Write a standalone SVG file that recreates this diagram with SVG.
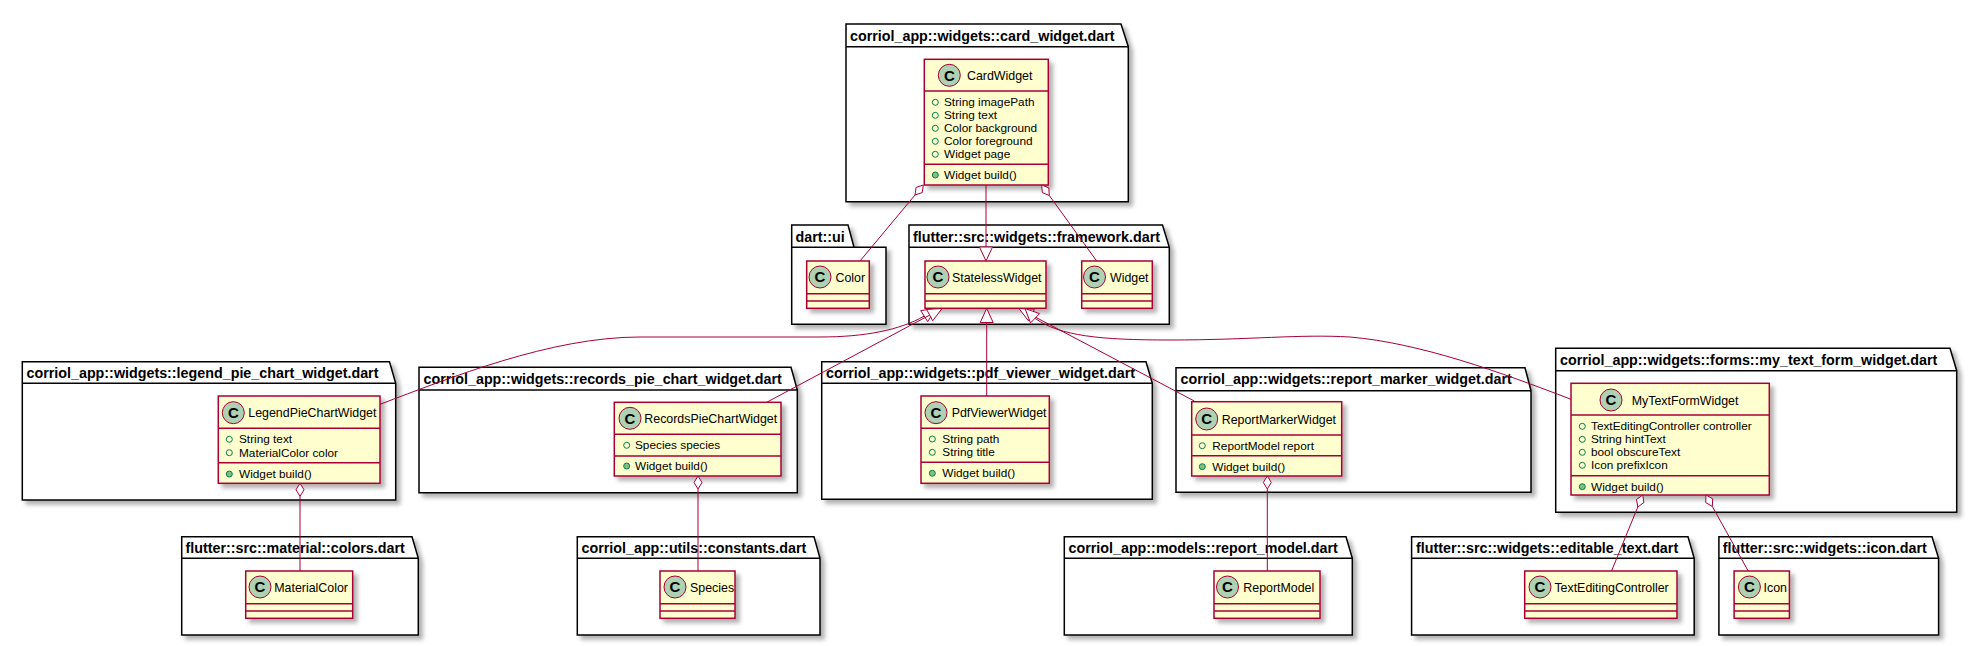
<svg xmlns="http://www.w3.org/2000/svg" width="1977" height="646" viewBox="0 0 1977 646">
<defs>
<filter id="sh" x="-10%" y="-10%" width="130%" height="130%"><feDropShadow dx="4" dy="4" stdDeviation="2" flood-color="#000" flood-opacity="0.3"/></filter>
<style>
.pkg{fill:#fff;stroke:#000;stroke-width:1.5;filter:url(#sh)}
.pl{fill:none;stroke:#000;stroke-width:1.5}
.pt{font-family:"Liberation Sans",Arial,sans-serif;font-weight:bold;font-size:14.3px;fill:#000}
.cls{fill:#FEFECE;stroke:#A80036;stroke-width:1.5;filter:url(#sh)}
.sep{stroke:#A80036;stroke-width:1.5}
.ci{fill:#ADD1B2;stroke:#A80036;stroke-width:1}
.cl{font-family:"Liberation Sans",Arial,sans-serif;font-weight:bold;font-size:15px;text-anchor:middle;fill:#000}
.cn{font-family:"Liberation Sans",Arial,sans-serif;font-size:12.4px;fill:#000}
.at{font-family:"Liberation Sans",Arial,sans-serif;font-size:11.8px;fill:#000}
.fv{fill:none;stroke:#038048;stroke-width:1}
.mv{fill:#84BE84;stroke:#038048;stroke-width:1}
.e{fill:none;stroke:#A80036;stroke-width:1}
.ah{fill:#fff;stroke:#A80036;stroke-width:1}
</style>
</defs>
<rect width="1977" height="646" fill="#fff"/>

<g id="pkg-card">
<polygon class="pkg" points="846,24 1121,24 1128.3,46.7 1128.3,201.7 846,201.7"/>
<line class="pl" x1="846" y1="46.7" x2="1128.3" y2="46.7"/>
<text class="pt" x="850" y="40.5">corriol_app::widgets::card_widget.dart</text>
<g id="CardWidget">
<rect class="cls" x="924.3" y="59.3" width="124" height="125.7"/>
<line class="sep" x1="924.3" y1="91" x2="1048.3" y2="91"/>
<line class="sep" x1="924.3" y1="164.3" x2="1048.3" y2="164.3"/>
<circle class="ci" cx="949.3" cy="75.3" r="11"/>
<text class="cl" x="949.3" y="80.6">C</text>
<text class="cn" x="967" y="79.8">CardWidget</text>
<circle class="fv" cx="935.3" cy="102.3" r="3"/><text class="at" x="944" y="106.3">String imagePath</text>
<circle class="fv" cx="935.3" cy="115.3" r="3"/><text class="at" x="944" y="119.3">String text</text>
<circle class="fv" cx="935.3" cy="128.3" r="3"/><text class="at" x="944" y="132.3">Color background</text>
<circle class="fv" cx="935.3" cy="141.3" r="3"/><text class="at" x="944" y="145.3">Color foreground</text>
<circle class="fv" cx="935.3" cy="154.3" r="3"/><text class="at" x="944" y="158.3">Widget page</text>
<circle class="mv" cx="935.3" cy="175" r="3"/><text class="at" x="944" y="179">Widget build()</text>
</g>
</g>

<g id="pkg-dart-ui">
<polygon class="pkg" points="791.7,225 848,225 854,247.3 886,247.3 886,324.3 791.7,324.3"/>
<line class="pl" x1="791.7" y1="247.3" x2="854" y2="247.3"/>
<text class="pt" x="795.5" y="241.5">dart::ui</text>
<g id="Color">
<rect class="cls" x="806.7" y="261" width="62.6" height="47.3"/>
<line class="sep" x1="806.7" y1="293.7" x2="869.3" y2="293.7"/>
<line class="sep" x1="806.7" y1="301" x2="869.3" y2="301"/>
<circle class="ci" cx="820" cy="277" r="11"/>
<text class="cl" x="820" y="282.3">C</text>
<text class="cn" x="835.5" y="281.5">Color</text>
</g>
</g>

<g id="pkg-framework">
<polygon class="pkg" points="909,225 1162.5,225 1169.3,247.3 1169.3,324.3 909,324.3"/>
<line class="pl" x1="909" y1="247.3" x2="1169.3" y2="247.3"/>
<text class="pt" x="913" y="241.5">flutter::src::widgets::framework.dart</text>
<g id="StatelessWidget">
<rect class="cls" x="925" y="261" width="121" height="47.3"/>
<line class="sep" x1="925" y1="293.7" x2="1046" y2="293.7"/>
<line class="sep" x1="925" y1="301" x2="1046" y2="301"/>
<circle class="ci" cx="938" cy="277" r="11"/>
<text class="cl" x="938" y="282.3">C</text>
<text class="cn" x="952" y="281.5">StatelessWidget</text>
</g>
<g id="Widget">
<rect class="cls" x="1081.7" y="261" width="70.6" height="47.3"/>
<line class="sep" x1="1081.7" y1="293.7" x2="1152.3" y2="293.7"/>
<line class="sep" x1="1081.7" y1="301" x2="1152.3" y2="301"/>
<circle class="ci" cx="1094.5" cy="277" r="11"/>
<text class="cl" x="1094.5" y="282.3">C</text>
<text class="cn" x="1110" y="281.5">Widget</text>
</g>
</g>

<g id="pkg-legend">
<polygon class="pkg" points="22.3,361.7 389.5,361.7 395.7,383.3 395.7,500 22.3,500"/>
<line class="pl" x1="22.3" y1="383.3" x2="395.7" y2="383.3"/>
<text class="pt" x="26.5" y="378">corriol_app::widgets::legend_pie_chart_widget.dart</text>
<g id="LegendPieChartWidget">
<rect class="cls" x="218.3" y="396" width="161.7" height="87.3"/>
<line class="sep" x1="218.3" y1="428.3" x2="380" y2="428.3"/>
<line class="sep" x1="218.3" y1="462.7" x2="380" y2="462.7"/>
<circle class="ci" cx="233.3" cy="412.7" r="11"/>
<text class="cl" x="233.3" y="418">C</text>
<text class="cn" x="248.3" y="417.2">LegendPieChartWidget</text>
<circle class="fv" cx="229.3" cy="439.3" r="3"/><text class="at" x="239" y="443.3">String text</text>
<circle class="fv" cx="229.3" cy="452.7" r="3"/><text class="at" x="239" y="456.7">MaterialColor color</text>
<circle class="mv" cx="229.3" cy="474" r="3"/><text class="at" x="239" y="478">Widget build()</text>
</g>
</g>

<g id="pkg-records">
<polygon class="pkg" points="419,367.3 791,367.3 797.3,390 797.3,492.7 419,492.7"/>
<line class="pl" x1="419" y1="390" x2="797.3" y2="390"/>
<text class="pt" x="423.5" y="384">corriol_app::widgets::records_pie_chart_widget.dart</text>
<g id="RecordsPieChartWidget">
<rect class="cls" x="614.3" y="402.3" width="166.7" height="73.7"/>
<line class="sep" x1="614.3" y1="434.3" x2="781" y2="434.3"/>
<line class="sep" x1="614.3" y1="456" x2="781" y2="456"/>
<circle class="ci" cx="630" cy="418.3" r="11"/>
<text class="cl" x="630" y="423.6">C</text>
<text class="cn" x="644.3" y="422.8">RecordsPieChartWidget</text>
<circle class="fv" cx="626.7" cy="445.3" r="3"/><text class="at" x="635" y="449.3">Species species</text>
<circle class="mv" cx="626.7" cy="466" r="3"/><text class="at" x="635" y="470">Widget build()</text>
</g>
</g>

<g id="pkg-pdf">
<polygon class="pkg" points="821.7,361.7 1146,361.7 1152.3,383.3 1152.3,499.3 821.7,499.3"/>
<line class="pl" x1="821.7" y1="383.3" x2="1152.3" y2="383.3"/>
<text class="pt" x="826" y="378">corriol_app::widgets::pdf_viewer_widget.dart</text>
<g id="PdfViewerWidget">
<rect class="cls" x="921" y="396" width="128.3" height="87.3"/>
<line class="sep" x1="921" y1="428.3" x2="1049.3" y2="428.3"/>
<line class="sep" x1="921" y1="462.3" x2="1049.3" y2="462.3"/>
<circle class="ci" cx="936" cy="412.7" r="11"/>
<text class="cl" x="936" y="418">C</text>
<text class="cn" x="951.7" y="417.2">PdfViewerWidget</text>
<circle class="fv" cx="932.3" cy="439" r="3"/><text class="at" x="942.3" y="443">String path</text>
<circle class="fv" cx="932.3" cy="452.3" r="3"/><text class="at" x="942.3" y="456.3">String title</text>
<circle class="mv" cx="932.3" cy="473.3" r="3"/><text class="at" x="942.3" y="477.3">Widget build()</text>
</g>
</g>

<g id="pkg-report-marker">
<polygon class="pkg" points="1176,367.7 1525,367.7 1531,390.7 1531,492.3 1176,492.3"/>
<line class="pl" x1="1176" y1="390.7" x2="1531" y2="390.7"/>
<text class="pt" x="1180.5" y="384.3">corriol_app::widgets::report_marker_widget.dart</text>
<g id="ReportMarkerWidget">
<rect class="cls" x="1191.7" y="401.7" width="150" height="74.3"/>
<line class="sep" x1="1191.7" y1="435" x2="1341.7" y2="435"/>
<line class="sep" x1="1191.7" y1="455.7" x2="1341.7" y2="455.7"/>
<circle class="ci" cx="1206.7" cy="419" r="11"/>
<text class="cl" x="1206.7" y="424.3">C</text>
<text class="cn" x="1221.7" y="423.5">ReportMarkerWidget</text>
<circle class="fv" cx="1202.3" cy="445.7" r="3"/><text class="at" x="1212.3" y="449.7">ReportModel report</text>
<circle class="mv" cx="1202.3" cy="466.7" r="3"/><text class="at" x="1212.3" y="470.7">Widget build()</text>
</g>
</g>

<g id="pkg-forms">
<polygon class="pkg" points="1555.7,348.3 1950,348.3 1956.7,370.7 1956.7,512.3 1555.7,512.3"/>
<line class="pl" x1="1555.7" y1="370.7" x2="1956.7" y2="370.7"/>
<text class="pt" x="1560" y="365">corriol_app::widgets::forms::my_text_form_widget.dart</text>
<g id="MyTextFormWidget">
<rect class="cls" x="1571" y="383.3" width="198.3" height="111.7"/>
<line class="sep" x1="1571" y1="415" x2="1769.3" y2="415"/>
<line class="sep" x1="1571" y1="475.7" x2="1769.3" y2="475.7"/>
<circle class="ci" cx="1611" cy="400" r="11"/>
<text class="cl" x="1611" y="405.3">C</text>
<text class="cn" x="1631.7" y="404.5">MyTextFormWidget</text>
<circle class="fv" cx="1582.3" cy="426.3" r="3"/><text class="at" x="1591" y="430.3">TextEditingController controller</text>
<circle class="fv" cx="1582.3" cy="439.3" r="3"/><text class="at" x="1591" y="443.3">String hintText</text>
<circle class="fv" cx="1582.3" cy="452.3" r="3"/><text class="at" x="1591" y="456.3">bool obscureText</text>
<circle class="fv" cx="1582.3" cy="465.3" r="3"/><text class="at" x="1591" y="469.3">Icon prefixIcon</text>
<circle class="mv" cx="1582.3" cy="486.7" r="3"/><text class="at" x="1591" y="490.7">Widget build()</text>
</g>
</g>

<g id="pkg-colors">
<polygon class="pkg" points="181.7,536.7 412,536.7 418.3,558.3 418.3,635 181.7,635"/>
<line class="pl" x1="181.7" y1="558.3" x2="418.3" y2="558.3"/>
<text class="pt" x="185.5" y="553">flutter::src::material::colors.dart</text>
<g id="MaterialColor">
<rect class="cls" x="245.7" y="571" width="107" height="47.3"/>
<line class="sep" x1="245.7" y1="603.7" x2="352.7" y2="603.7"/>
<line class="sep" x1="245.7" y1="611" x2="352.7" y2="611"/>
<circle class="ci" cx="260" cy="587" r="11"/>
<text class="cl" x="260" y="592.3">C</text>
<text class="cn" x="274.3" y="591.5">MaterialColor</text>
</g>
</g>

<g id="pkg-constants">
<polygon class="pkg" points="577.3,536.7 814,536.7 820,558.3 820,635 577.3,635"/>
<line class="pl" x1="577.3" y1="558.3" x2="820" y2="558.3"/>
<text class="pt" x="581.5" y="553">corriol_app::utils::constants.dart</text>
<g id="Species">
<rect class="cls" x="660" y="571" width="75" height="47.3"/>
<line class="sep" x1="660" y1="603.7" x2="735" y2="603.7"/>
<line class="sep" x1="660" y1="611" x2="735" y2="611"/>
<circle class="ci" cx="675" cy="587" r="11"/>
<text class="cl" x="675" y="592.3">C</text>
<text class="cn" x="690" y="591.5">Species</text>
</g>
</g>

<g id="pkg-report-model">
<polygon class="pkg" points="1064.3,536.7 1346,536.7 1352.3,558.3 1352.3,635 1064.3,635"/>
<line class="pl" x1="1064.3" y1="558.3" x2="1352.3" y2="558.3"/>
<text class="pt" x="1068.5" y="553">corriol_app::models::report_model.dart</text>
<g id="ReportModel">
<rect class="cls" x="1214" y="571" width="106" height="47.3"/>
<line class="sep" x1="1214" y1="603.7" x2="1320" y2="603.7"/>
<line class="sep" x1="1214" y1="611" x2="1320" y2="611"/>
<circle class="ci" cx="1227.5" cy="587" r="11"/>
<text class="cl" x="1227.5" y="592.3">C</text>
<text class="cn" x="1243.3" y="591.5">ReportModel</text>
</g>
</g>

<g id="pkg-editable-text">
<polygon class="pkg" points="1411.6,536.7 1688,536.7 1694.2,558.3 1694.2,635 1411.6,635"/>
<line class="pl" x1="1411.6" y1="558.3" x2="1694.2" y2="558.3"/>
<text class="pt" x="1416" y="553">flutter::src::widgets::editable_text.dart</text>
<g id="TextEditingController">
<rect class="cls" x="1524.7" y="571" width="152.3" height="47.3"/>
<line class="sep" x1="1524.7" y1="603.7" x2="1677" y2="603.7"/>
<line class="sep" x1="1524.7" y1="611" x2="1677" y2="611"/>
<circle class="ci" cx="1540" cy="587" r="11"/>
<text class="cl" x="1540" y="592.3">C</text>
<text class="cn" x="1554.4" y="591.5">TextEditingController</text>
</g>
</g>

<g id="pkg-icon">
<polygon class="pkg" points="1718.9,536.7 1932,536.7 1938.6,558.3 1938.6,635 1718.9,635"/>
<line class="pl" x1="1718.9" y1="558.3" x2="1938.6" y2="558.3"/>
<text class="pt" x="1722.7" y="553">flutter::src::widgets::icon.dart</text>
<g id="Icon">
<rect class="cls" x="1734.1" y="571" width="55.3" height="47.3"/>
<line class="sep" x1="1734.1" y1="603.7" x2="1789.4" y2="603.7"/>
<line class="sep" x1="1734.1" y1="611" x2="1789.4" y2="611"/>
<circle class="ci" cx="1749.4" cy="587" r="11"/>
<text class="cl" x="1749.4" y="592.3">C</text>
<text class="cn" x="1763.5" y="591.5">Icon</text>
</g>
</g>

<g id="connectors">
<path class="e" d="M986,185 L986,247"/>
<polygon class="ah" points="986,261 979.5,247 992.5,247"/>
<polygon class="ah" points="923.3,185 922.2,192.6 915,195 916.1,187.4"/>
<path class="e" d="M915,195 L860,261"/>
<polygon class="ah" points="1041.7,185 1048.8,187.9 1049.3,195.5 1042.3,192.6"/>
<path class="e" d="M1049.3,195.5 L1096.7,261"/>
<path class="e" d="M380,404.3 C450,378 550,337 640,337 L820,337 C865,337 900,330 924.2,316.1"/>
<polygon class="ah" points="936,308.5 927.7,321.6 920.7,310.6"/>
<path class="e" d="M766.7,402.3 L929.6,315.1"/>
<polygon class="ah" points="942,308.5 932.7,320.8 926.6,309.4"/>
<path class="e" d="M986.7,396 L986.7,322.5"/>
<polygon class="ah" points="986.7,308.5 980.2,322.5 993.2,322.5"/>
<path class="e" d="M1194.3,401 L1031.4,315"/>
<polygon class="ah" points="1019,308.5 1034.4,309.3 1028.4,320.8"/>
<path class="e" d="M1035,318.3 C1060,336 1100,340 1170,340 C1250,340 1300,334 1350,337 C1420,343 1500,372 1571,399.3"/>
<polygon class="ah" points="1025,308.5 1039.6,313.6 1030.5,322.9"/>
<polygon class="ah" points="300,483.3 304,489.8 300,496.3 296,489.8"/>
<path class="e" d="M300,496.3 L300,571"/>
<polygon class="ah" points="698,476 702,482.5 698,489 694,482.5"/>
<path class="e" d="M698,489 L698,571"/>
<polygon class="ah" points="1267.3,476 1271.3,482.5 1267.3,489 1263.3,482.5"/>
<path class="e" d="M1267.3,489 L1267.3,571"/>
<polygon class="ah" points="1642.7,495 1643.9,502.5 1637.8,507 1636.5,499.5"/>
<path class="e" d="M1637.8,507 L1611.5,571"/>
<polygon class="ah" points="1706,495 1712.7,498.8 1712.3,506.4 1705.7,502.6"/>
<path class="e" d="M1712.3,506.4 L1748.2,571"/>
</g>
</svg>
